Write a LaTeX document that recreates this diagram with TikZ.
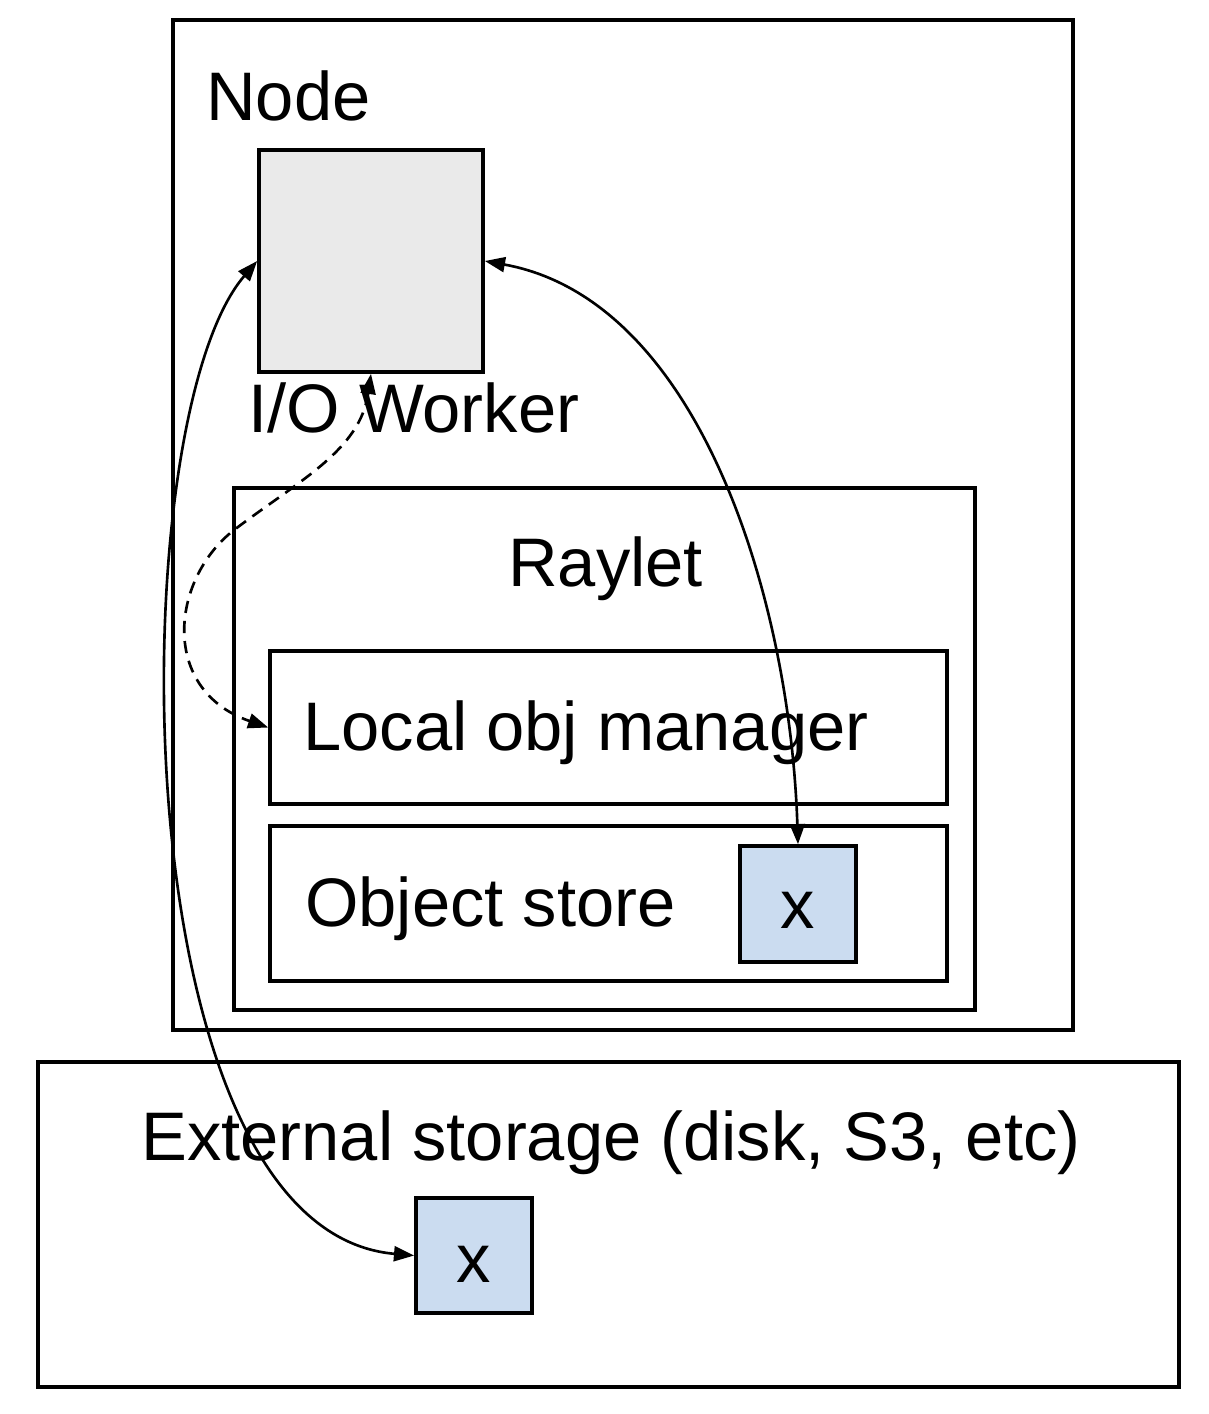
\documentclass[tikz,border=0pt]{standalone}
\usepackage{fontspec}
\setmainfont{Liberation Sans}
\usetikzlibrary{arrows.meta}
\definecolor{iogrey}{RGB}{234,234,234}
\definecolor{xblue}{RGB}{203,220,240}
\begin{document}
\begin{tikzpicture}[x=0.02cm,y=-0.02cm,
  box/.style={draw=black,line width=2.1pt,rectangle,inner sep=0pt},
  lbl/.style={inner sep=0pt,anchor=base west,font=\fontsize{39.1}{46}\selectfont},
  xlbl/.style={inner sep=0pt,anchor=base,font=\fontsize{39.1}{46}\selectfont},
  conn/.style={line width=1.5pt,{Triangle[length=11.5pt,width=8.5pt]}-{Triangle[length=11.5pt,width=8.5pt]}},
  dconn/.style={conn,dash pattern=on 7pt off 4.5pt},
]
\useasboundingbox (0,0) rectangle (1208,1414);
% boxes
\node[box,minimum width=18cm,minimum height=20.2cm] (nodebox) at (623,525) {};
\node[box,fill=iogrey,minimum width=4.48cm,minimum height=4.44cm] (io) at (371,261) {};
\node[box,minimum width=14.82cm,minimum height=10.44cm] (raylet) at (604.5,749) {};
\node[box,minimum width=13.54cm,minimum height=3.06cm] (lom) at (608.5,727.5) {};
\node[box,minimum width=13.54cm,minimum height=3.1cm] (ostore) at (608.5,903.5) {};
\node[box,fill=xblue,minimum width=2.32cm,minimum height=2.32cm] (xa) at (798,904) {};
\node[box,minimum width=22.82cm,minimum height=6.5cm] (ext) at (608.5,1224.5) {};
\node[box,fill=xblue,minimum width=2.32cm,minimum height=2.3cm] (xb) at (474,1255.5) {};
% labels
\node[lbl] (tnode) at (206,120) {Node};
\node[lbl] (tio) at (248,432) {I/O Worker};
\node[lbl] (traylet) at (508,586) {Raylet};
\node[lbl] (tlom) at (303,750) {Local obj manager};
\node[lbl] (tos) at (305,926) {Object store};
\node[lbl] (text) at (141,1160) {External storage (disk, S3, etc)};
\node[xlbl] (txa) at (798,928) {x};
\node[xlbl] (txb) at (474,1282) {x};
% connectors
\draw[conn] (io.east) .. controls (700,300) and (790,600) .. (xa.north);
\draw[conn] (io.west) .. controls (120,420) and (118,1230) .. (xb.west);
\draw[dconn] (io.south) .. controls (360,450) and (300,480) .. (234,530)
  .. controls (170,580) and (160,690) .. (lom.west);
\end{tikzpicture}
\end{document}
